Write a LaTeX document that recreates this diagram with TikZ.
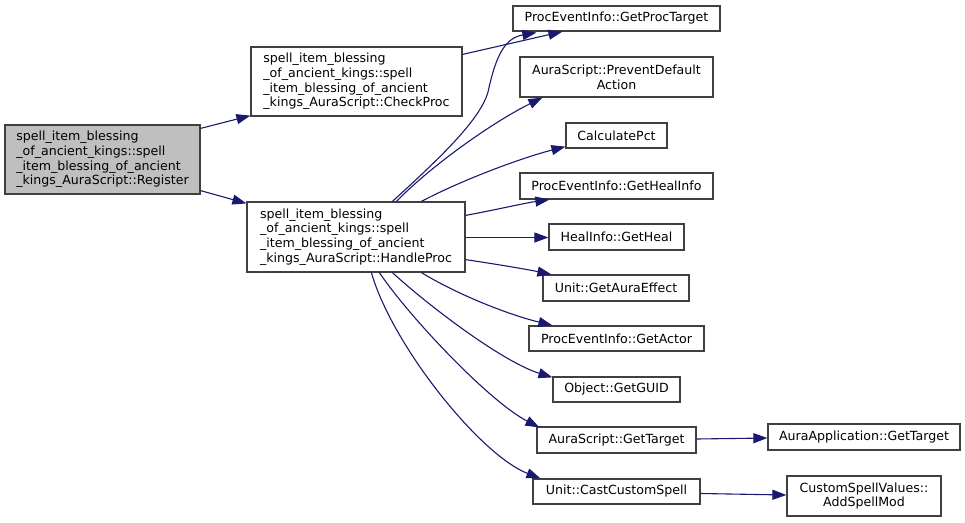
\documentclass[tikz,border=0pt]{standalone}
\usepackage{fontspec}
\setmainfont{DejaVu Sans}
\usetikzlibrary{arrows.meta,calc}
\definecolor{edgeblue}{HTML}{191970}
\definecolor{boxline}{HTML}{404040}
\definecolor{boxfill}{HTML}{BFBFBF}
\tikzset{
  fn/.style={draw=boxline, line width=1.2pt, fill=white, inner sep=0pt,
    font=\fontsize{12.6}{14.7}\selectfont, align=center},
  fnl/.style={fn, align=left},
  callee/.style={draw=edgeblue, line width=1.1pt, -{Triangle[length=14pt,width=10pt]}}
}
\begin{document}
\begin{tikzpicture}[x=1pt,y=-1pt]
\useasboundingbox (0,0) rectangle (965,522);
% nodes
\node[fnl, fill=boxfill, minimum width=195pt, minimum height=69pt] (reg) at (102.5,159.5)
  {spell\_item\_blessing\\\_of\_ancient\_kings::spell\\\_item\_blessing\_of\_ancient\\\_kings\_AuraScript::Register};
\node[fnl, minimum width=211pt, minimum height=69pt] (cp) at (356.5,81.5)
  {spell\_item\_blessing\\\_of\_ancient\_kings::spell\\\_item\_blessing\_of\_ancient\\\_kings\_AuraScript::CheckProc};
\node[fnl, minimum width=218pt, minimum height=70pt] (hp) at (356,237)
  {spell\_item\_blessing\\\_of\_ancient\_kings::spell\\\_item\_blessing\_of\_ancient\\\_kings\_AuraScript::HandleProc};
\node[fn, minimum width=207pt, minimum height=25pt] (gpt) at (616.5,18.5) {ProcEventInfo::GetProcTarget};
\node[fn, minimum width=193pt, minimum height=40pt] (pda) at (616.5,77) {AuraScript::PreventDefault\\Action};
\node[fn, minimum width=101pt, minimum height=25pt] (cpct) at (616.5,135.5) {CalculatePct};
\node[fn, minimum width=193pt, minimum height=26pt] (ghi) at (616.5,186) {ProcEventInfo::GetHealInfo};
\node[fn, minimum width=135pt, minimum height=26pt] (gh) at (616.5,237) {HealInfo::GetHeal};
\node[fn, minimum width=146pt, minimum height=26pt] (gae) at (616,288) {Unit::GetAuraEffect};
\node[fn, minimum width=175pt, minimum height=25pt] (ga) at (616.5,338.5) {ProcEventInfo::GetActor};
\node[fn, minimum width=127pt, minimum height=25pt] (gg) at (616.5,389.5) {Object::GetGUID};
\node[fn, minimum width=159pt, minimum height=26pt] (ast) at (616.5,440) {AuraScript::GetTarget};
\node[fn, minimum width=167pt, minimum height=25pt] (ccs) at (616.5,491.5) {Unit::CastCustomSpell};
\node[fn, minimum width=192pt, minimum height=26pt] (aat) at (864,437) {AuraApplication::GetTarget};
\node[fn, minimum width=154pt, minimum height=40pt] (asm) at (864,496) {CustomSpellValues::\\AddSpellMod};
% edges
\draw[callee] ($(reg.north east)+(0,4)$) -- ($(cp.south west)+(0,-1)$);
\draw[callee] ($(reg.south east)+(0,-4)$) -- ($(hp.north west)+(0,2)$);
\draw[callee] ($(cp.north east)+(0,8)$) -- ($(gpt.south west)+(50,0)$);
\draw[callee] ($(hp.north west)+(146,0)$) .. controls (440,158) and (480,120) .. (488,92)
  .. controls (496,55) and (505,38) .. ($(gpt.south west)+(24,1)$);
\draw[callee] ($(hp.north west)+(150,0)$) .. controls (432,165) and (493,122) .. ($(pda.south west)+(23,0)$);
\draw[callee] ($(hp.north west)+(175,0)$) .. controls (462,180) and (521,158) .. ($(cpct.south west)+(0,-2)$);
\draw[callee] ($(hp.north east)+(0,14)$) .. controls (495,210) and (525,203) .. ($(ghi.south west)+(30,0)$);
\draw[callee] ($(hp.east)+(0,0.5)$) -- ($(gh.west)+(0,0.5)$);
\draw[callee] ($(hp.south east)+(0,-13)$) .. controls (495,264) and (525,269) .. ($(gae.north west)+(9,0)$);
\draw[callee] ($(hp.south west)+(175,0)$) .. controls (460,296) and (510,315) .. ($(ga.north west)+(24,0)$);
\draw[callee] ($(hp.south west)+(146,0)$) .. controls (430,307) and (503,362) .. ($(gg.north west)+(0,1)$);
\draw[callee] ($(hp.south west)+(133,0)$) .. controls (410,318) and (490,402) .. ($(ast.north west)+(3,1)$);
\draw[callee] ($(hp.south west)+(125,0)$) .. controls (392,345) and (480,455) .. ($(ccs.north west)+(8,0)$);
\draw[callee] ($(ast.east)+(0,-1)$) -- ($(aat.west)+(0,1)$);
\draw[callee] ($(ccs.east)+(0,2)$) -- ($(asm.west)+(0,-1)$);
\end{tikzpicture}
\end{document}
